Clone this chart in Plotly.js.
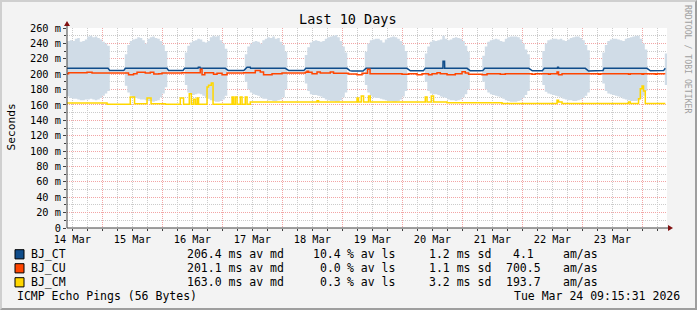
<!DOCTYPE html>
<html><head><meta charset="utf-8">
<script src="https://cdn.plot.ly/plotly-3.0.1.min.js"></script>
<style>
html,body{margin:0;padding:0;background:#F3F3F3;}
#wrap{position:relative;width:697px;height:310px;overflow:hidden;}
#chart{width:697px;height:310px;}
#frame{position:absolute;left:0;top:0;width:697px;height:310px;box-sizing:border-box;border-top:2px solid #CFCFCF;border-left:2px solid #CFCFCF;border-right:2px solid #9E9E9E;border-bottom:2px solid #9E9E9E;pointer-events:none;}
</style></head><body>
<div id="wrap"><div id="chart"></div><div id="frame"></div></div>
<script>
// ---------- DATA ----------
// hours counted from 2026-03-14 00:00
const smokeStartHour = 9;
// smoke envelope (ms), hourly, null = no smoke
const smokeHi = [
 242,243,244,243,246,247,242,243,245,249,250,248,249,247,245,                                   // 14 Mar 09-23
 242,240,237,null,null,null,null,null,null,226,238,243,245,246,248,247,244,240,246,248,249,247,246,243, // 15 Mar
 238,230,null,null,null,null,null,null,null,228,237,241,243,244,246,245,242,241,243,248,250,249,250,244, // 16 Mar
 240,233,null,null,null,null,null,null,null,226,236,240,242,243,242,240,244,246,248,247,249,246,247,242, // 17 Mar
 238,229,null,null,null,null,null,null,null,225,235,241,243,244,243,242,243,246,248,249,250,251,248,243, // 18 Mar
 236,228,null,null,null,null,null,null,null,229,240,244,245,246,246,244,241,245,247,248,249,248,246,243, // 19 Mar
 238,230,null,null,null,null,null,null,null,227,236,242,244,243,244,245,250,246,244,245,247,248,247,246, // 20 Mar
 243,237,229,null,null,null,null,null,224,236,242,244,245,246,245,243,242,246,248,249,249,249,248,245, // 21 Mar
 240,232,226,null,null,null,null,null,230,240,244,245,246,246,245,246,244,243,245,247,248,249,249,247, // 22 Mar
 244,238,231,null,null,null,null,null,228,238,243,245,246,246,245,244,243,246,247,248,249,250,250,246, // 23 Mar
 240,232,null,null,null,null,null,null,null,227                                                   // 24 Mar 00-09
];
const smokeLo = [
 172,171,169,168,168,167,166,166,167,167,168,167,166,167,169,
 172,175,178,null,null,null,null,null,null,185,176,172,170,169,168,167,167,166,165,165,164,165,166,170,
 175,183,null,null,null,null,null,null,null,186,176,174,173,174,175,174,172,170,168,166,165,164,164,165,
 167,172,null,null,null,null,null,null,null,190,180,176,174,173,172,170,168,168,166,166,165,165,166,167,
 170,180,null,null,null,null,null,null,null,188,178,174,173,173,172,171,169,167,166,165,165,164,164,166,
 170,176,null,null,null,null,null,null,null,186,176,172,170,169,169,168,167,166,165,165,164,164,165,167,
 171,178,null,null,null,null,null,null,null,190,178,175,174,174,173,171,170,169,167,166,166,165,166,167,
 170,174,180,null,null,null,null,null,190,180,176,174,173,172,171,170,168,166,165,164,164,164,165,166,
 169,173,178,null,null,null,null,null,186,177,175,174,173,172,171,170,168,167,166,166,165,165,166,167,
 169,172,176,null,null,null,null,null,188,178,175,174,173,172,171,170,168,167,166,165,165,165,166,168,
 172,178,null,null,null,null,null,null,null,186
];
// BJ_CT median (ms) at hour marks
const ctHours = [9.5,26.3,27.0,32.6,33.2,49.9,50.5,56.3,56.9,62.3,62.4,63.1,63.2,73.2,74.4,80.6,81.9,83.2,83.3,97.2,98.6,104.6,105.4,121.9,123.0,123.9,128.3,129.5,145.9,147.2,152.4,153.2,160.25,160.3,160.9,160.95,169.9,171.2,175.2,176.2,177.0,194.6,196.0,200.0,200.8,206.0,206.1,206.5,206.6,217.2,218.5,222.5,224.3,224.7,241.9,243.2,248.5,249.2];
const ctMs    = [207.6,207.6,204.6,204.6,207.6,207.6,204.6,204.6,207.6,207.6,208.9,208.9,207.6,207.6,204.6,204.6,208.9,208.9,207.6,207.6,204.6,204.6,207.6,207.6,204.6,204.1,204.1,207.6,207.6,204.3,204.3,207.6,207.6,216.7,216.7,207.6,207.6,204.3,204.3,204.6,207.6,207.6,204.3,204.3,207.6,207.6,208.9,208.9,207.6,207.6,204.1,204.3,204.6,207.6,207.6,204.3,204.6,207.6];
// BJ_CU median (ms), step changes
const cuHours = [9.5,10.5,17.9,19.9,34.5,36.5,37.9,41.2,43.2,44.6,46.6,47.9,55.9,63.2,63.9,65.0,68.5,69.9,71.9,73.9,80.6,85.2,87.2,88.5,91.9,95.9,105.2,105.9,106.5,107.9,109.9,111.2,115.2,116.5,122.5,125.9,127.9,130.1,131.1,143.9,146.5,149.9,151.9,154.5,155.9,157.9,159.2,161.9,165.2,167.9,169.2,170.5,175.9,177.9,183.2,185.2,195.9,197.2,202.5,203.2,205.9,206.5,207.9,222.5,223.2,234.5,235.2,239.9,240.5,245.2,245.9,249.2];
const cuMs    = [200.6,201.9,202.4,201.5,199.3,200.6,202.4,201.5,202.4,200.2,200.6,201.5,201.9,206.3,199.3,201.9,199.8,201.1,199.3,201.5,201.9,204.9,202.8,199.3,200.6,201.5,202.4,203.7,202.4,200.6,202.8,201.5,202.8,201.1,200.2,199.3,201.1,206.5,200.6,199.8,200.6,199.3,200.6,199.3,200.6,201.9,200.6,199.3,200.6,203.2,201.5,199.8,199.3,200.6,199.8,200.6,199.8,200.6,199.8,200.6,202.8,199.3,200.6,199.8,200.6,199.8,200.6,199.8,200.6,199.8,200.6,200.6];
// BJ_CM median (ms), step changes
const cmHours = [9.5,25.9,35.2,36.9,41.9,43.5,49.2,55.2,56.5,58.8,59.6,60.5,61.2,61.9,62.5,65.9,66.5,67.6,68.3,75.9,76.5,77.2,77.9,79.2,79.9,81.2,81.9,83.2,109.9,110.5,125.9,126.5,127.6,128.5,130.5,131.2,153.2,153.9,155.6,156.5,161.9,183.9,205.9,206.5,207.9,234.5,235.2,238.5,239.2,239.9,240.5,241.2,249.2];
const cmMs    = [162.5,160.8,170.3,161.6,169.0,161.6,160.8,169.0,160.8,174.6,160.8,167.3,160.8,169.0,160.8,183.3,185.5,188.5,160.8,170.3,160.8,170.3,160.8,170.3,160.8,170.3,160.8,163.8,165.5,163.8,169.0,163.8,171.6,163.8,171.6,163.8,170.3,163.8,171.6,163.8,162.9,162.0,166.0,163.8,162.0,163.8,162.0,168.0,181.0,184.6,178.0,162.0,162.0];

const seriesNames  = ['BJ_CT','BJ_CU','BJ_CM'];
const seriesColors = ['#0F4C8A','#FF4500','#FFD700'];
const avgMs   = [206.4, 201.1, 163.0];
const lossPct = [10.4, 0.0, 0.3];
const sdMs    = [1.2, 1.1, 3.2];
const amas    = [4.1, 700.5, 193.7];
const dayLabels = ['14 Mar','15 Mar','16 Mar','17 Mar','18 Mar','19 Mar','20 Mar','21 Mar','22 Mar','23 Mar'];
const yTickVals = [0,20,40,60,80,100,120,140,160,180,200,220,240,260];
const yTickText = ['0','20 m','40 m','60 m','80 m','100 m','120 m','140 m','160 m','180 m','200 m','220 m','240 m','260 m'];
const titleText = 'Last 10 Days';
const yTitle = 'Seconds';
const footLeft = 'ICMP Echo Pings (56 Bytes)';
const footRight = 'Tue Mar 24 09:15:31 2026';
const watermark = 'RRDTOOL / TOBI OETIKER';

// ---------- helpers ----------
const T0 = Date.UTC(2026,2,14,0,0,0);
function hd(h){ return new Date(T0 + h*3600000).toISOString().replace('T',' ').slice(0,23); }
const L=67, R=30, T=28, B=82, W=697, H=310;
const PW=W-L-R, PH=H-T-B;
const px=x=>(x-L)/PW, py=y=>(T+PH-y)/PH;
const FONT='DejaVu Sans Mono';

// smoke polygon
const sx=[], sy=[];
for(let i=0;i<smokeHi.length;){
  if(smokeHi[i]==null){i++;continue;}
  let j=i; while(j<smokeHi.length && smokeHi[j]!=null) j++;
  for(let k=i;k<j;k++){ const h=smokeStartHour+k; sx.push(hd(h),hd(h+1)); sy.push(smokeHi[k],smokeHi[k]); }
  for(let k=j-1;k>=i;k--){ const h=smokeStartHour+k; sx.push(hd(h+1),hd(h)); sy.push(smokeLo[k],smokeLo[k]); }
  sx.push(null); sy.push(null);
  i=j;
}

const traces=[
 {x:sx,y:sy,type:'scatter',mode:'lines',fill:'toself',fillcolor:'#D0DCE7',line:{width:0},hoverinfo:'skip'},
 {x:ctHours.map(hd),y:ctMs,type:'scatter',mode:'lines',line:{color:seriesColors[0],width:1.5},name:seriesNames[0]},
 {x:cuHours.map(hd),y:cuMs,type:'scatter',mode:'lines',line:{color:seriesColors[1],width:1.5,shape:'hv'},name:seriesNames[1]},
 {x:cmHours.map(hd),y:cmMs,type:'scatter',mode:'lines',line:{color:seriesColors[2],width:1.5,shape:'hv'},name:seriesNames[2]},
 {x:[hd(24)],y:[null],xaxis:'x2',type:'scatter',mode:'lines',hoverinfo:'skip'}
];

const xr=[hd(9.88),hd(249.88)];
const noon=dayLabels.map((d,i)=>hd(24*i+12));
const midn=[]; for(let i=0;i<=10;i++) midn.push(hd(24*i));
const six=[]; for(let i=0;i<=10;i++){ six.push(hd(24*i+6)); six.push(hd(24*i+18)); }
const yMinor=[]; for(let v=10; v<260; v+=20) yMinor.push(v);

const GRID='#CBCBCB', MGRID='#F2A5A5', DASH='1px,1px', AX='#404040';

const ann=[];
const addT=(text,x,y,opt={})=>ann.push(Object.assign({text,x:px(x),y:py(y),xref:'paper',yref:'paper',showarrow:false,xanchor:'left',yanchor:'middle',font:{family:FONT,size:11.5,color:'#000'}},opt));
addT(titleText,348,19,{xanchor:'center',font:{family:FONT,size:13.5,color:'#000'}});
addT(yTitle,10.5,127,{xanchor:'center',textangle:-90,font:{family:FONT,size:11.2,color:'#000'}});
addT(watermark,688,59,{xanchor:'center',textangle:90,font:{family:FONT,size:8.2,color:'#A0A0A0'}});
const rowY=[254.3,268.3,282.3];
const shapes=[];
seriesNames.forEach((n,i)=>{
  const y=rowY[i];
  addT(n,29.2,y);
  addT(avgMs[i].toFixed(1)+' ms av md',184.5,y);
  addT(lossPct[i].toFixed(1),343.2,y,{xanchor:'right'});
  addT('% av ls',345.2,y);
  addT(sdMs[i].toFixed(1)+' ms sd',426.8,y);
  addT(amas[i].toFixed(1),523.7,y,{xanchor:'center'});
  addT('am/as',561.2,y);
  shapes.push({type:'rect',xref:'paper',yref:'paper',x0:px(15),x1:px(24),y0:py(y+4.6),y1:py(y-4.6),fillcolor:seriesColors[i],line:{color:'#000',width:1}});
});
addT(footLeft,15.2,296.3);
addT(footRight,681.5,296.3,{xanchor:'right'});

// axes lines + arrows
shapes.push({type:'line',xref:'paper',yref:'paper',x0:px(67),x1:px(67),y0:py(228),y1:py(24),line:{color:AX,width:1}});
shapes.push({type:'line',xref:'paper',yref:'paper',x0:px(67),x1:px(670),y0:py(228),y1:py(228),line:{color:AX,width:1}});
shapes.push({type:'path',xref:'paper',yref:'paper',path:`M ${px(64)},${py(26)} L ${px(70)},${py(26)} L ${px(67)},${py(21)} Z`,fillcolor:'#801010',line:{width:0}});
shapes.push({type:'path',xref:'paper',yref:'paper',path:`M ${px(668)},${py(225)} L ${px(668)},${py(231)} L ${px(673)},${py(228)} Z`,fillcolor:'#801010',line:{width:0}});

const layout={
 width:W,height:H,margin:{l:L,r:R,t:T,b:B,pad:0},
 paper_bgcolor:'#F3F3F3',plot_bgcolor:'#FFFFFF',showlegend:false,
 font:{family:FONT,size:10.3,color:'#000'},
 xaxis:{type:'date',range:xr,tickmode:'array',tickvals:noon,ticktext:dayLabels,
   showgrid:true,gridcolor:GRID,griddash:DASH,gridwidth:1,zeroline:false,showline:false,
   ticks:'outside',ticklen:2,tickcolor:AX,tickfont:{family:FONT,size:10.3,color:'#000'},
   minor:{tickmode:'array',tickvals:six,showgrid:true,gridcolor:GRID,griddash:DASH,gridwidth:1,ticks:'outside',ticklen:2,tickcolor:AX},
   fixedrange:true},
 xaxis2:{type:'date',range:xr,overlaying:'x',anchor:'y',side:'bottom',tickmode:'array',tickvals:midn,
   showticklabels:false,showgrid:true,gridcolor:MGRID,griddash:DASH,gridwidth:1,zeroline:false,showline:false,
   ticks:'outside',ticklen:2,tickcolor:AX,fixedrange:true},
 yaxis:{range:[0,260],tickmode:'array',tickvals:yTickVals,ticktext:yTickText,
   showgrid:true,gridcolor:MGRID,griddash:DASH,gridwidth:1,zeroline:false,showline:false,
   ticks:'outside',ticklen:3,tickcolor:AX,tickfont:{family:FONT,size:10.3,color:'#000'},
   minor:{tickmode:'array',tickvals:yMinor,showgrid:true,gridcolor:GRID,griddash:DASH,gridwidth:1,ticks:'outside',ticklen:2,tickcolor:AX},
   fixedrange:true},
 annotations:ann,shapes:shapes
};
Plotly.newPlot('chart',traces,layout,{displayModeBar:false,staticPlot:true});
</script></body></html>
